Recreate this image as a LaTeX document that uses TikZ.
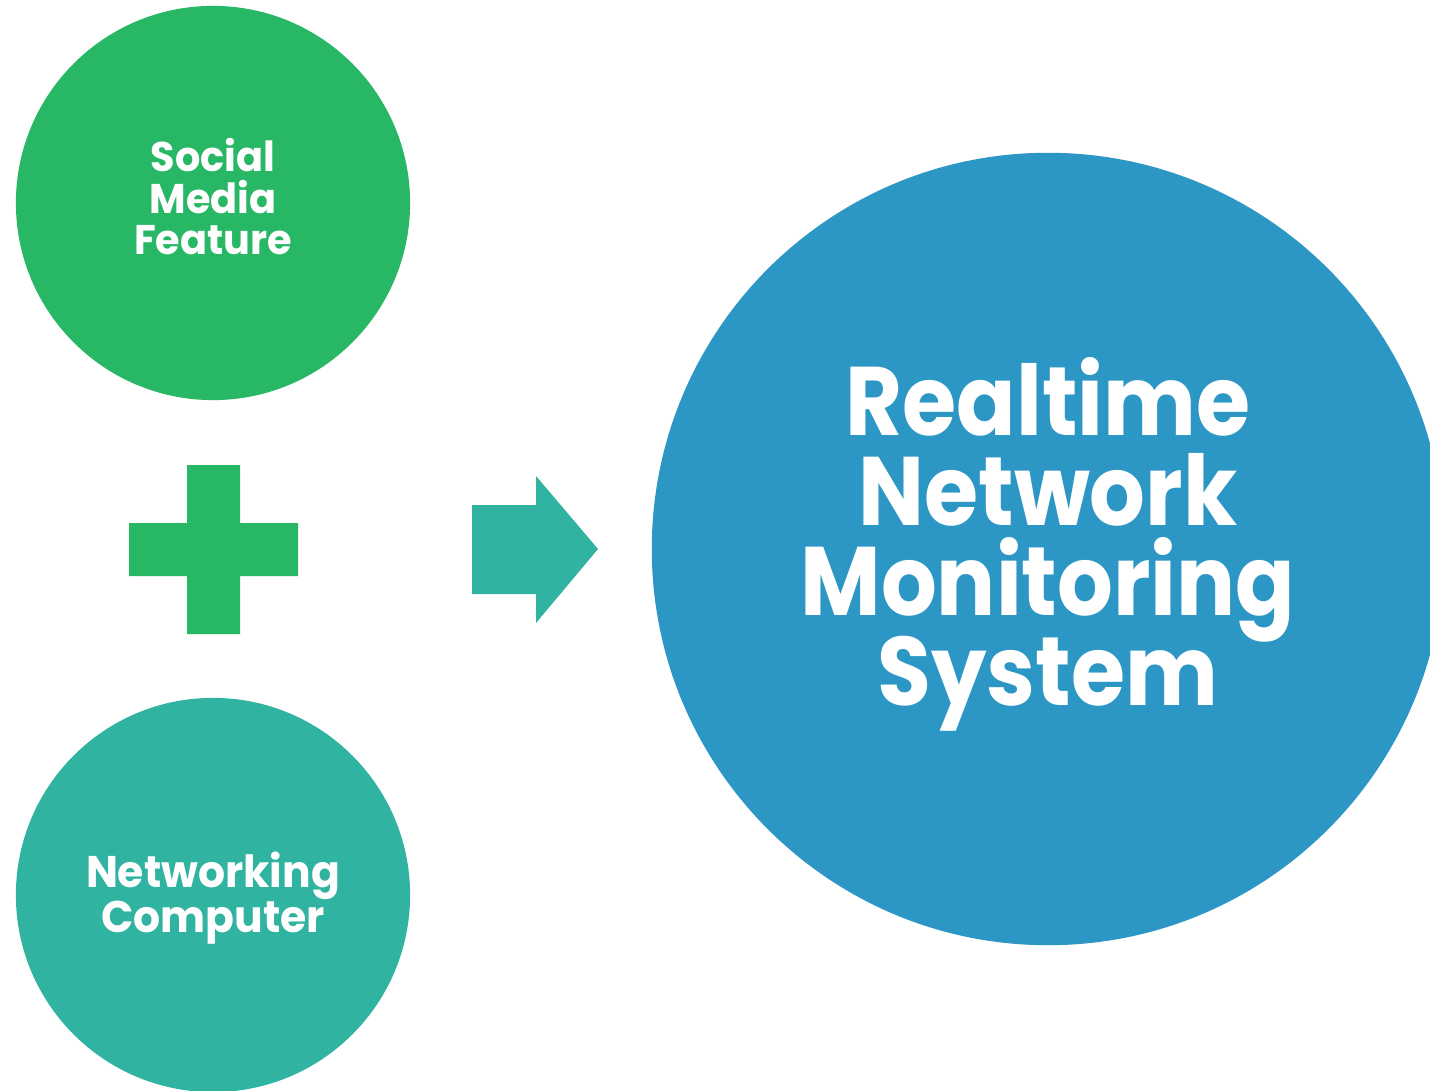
\documentclass[tikz,border=0pt]{standalone}
\usepackage{fontspec}
\setmainfont{Poppins}
\newfontfamily\bigfam[FakeStretch=0.9]{Poppins}
\newfontfamily\smallfam[FakeStretch=0.96]{Poppins}
\newcommand\tightlines{\lineskiplimit=-20pt\relax}
\usepackage{tikz}
\usetikzlibrary{calc}

\definecolor{smgreen}{RGB}{39,183,101}
\definecolor{nwteal}{RGB}{48,179,161}
\definecolor{rtblue}{RGB}{44,151,197}

\begin{document}
\begin{tikzpicture}[x=0.01cm,y=-0.01cm,
	main node/.style={circle,inner sep=0pt},
	label node/.style={text=white,align=center,inner sep=0pt},
	small font/.style={font=\smallfam\bfseries\tightlines\fontsize{#1}{#1}\selectfont},
	big font/.style={font=\bigfam\bfseries\tightlines\fontsize{27.7}{25.6}\selectfont}]
	
	\clip (0,0) rectangle (1430,1091);
	\fill[white] (0,0) rectangle (1430,1091);
	
	\node[main node,fill=smgreen,minimum size=3.94cm] (0) at (213,203) {};
	\node[main node,fill=nwteal,minimum size=3.94cm] (1) at (213,895) {};
	\node[main node,fill=rtblue,minimum size=7.92cm] (2) at (1048,549) {};
	
	\node[label node,small font=11.8] (t0) at ($(0.center)+(0,-6)$) {Social\\Media\\Feature};
	\node[label node,small font=12.6] (t1) at ($(1.center)+(0,3)$) {Networking\\Computer};
	\node[label node,big font] (t2) at ($(2.center)+(0,-5)$) {Realtime\\Network\\Monitoring\\System};
	
	% plus sign
	\fill[smgreen] (187,465) -- (240,465) -- (240,523) -- (298,523) -- (298,576) -- (240,576)
		-- (240,634) -- (187,634) -- (187,576) -- (129,576) -- (129,523) -- (187,523) -- cycle;
	% block arrow
	\fill[nwteal] (472,505) -- (536,505) -- (536,476) -- (598,549) -- (536,623) -- (536,594)
		-- (472,594) -- cycle;
\end{tikzpicture}
\end{document}
